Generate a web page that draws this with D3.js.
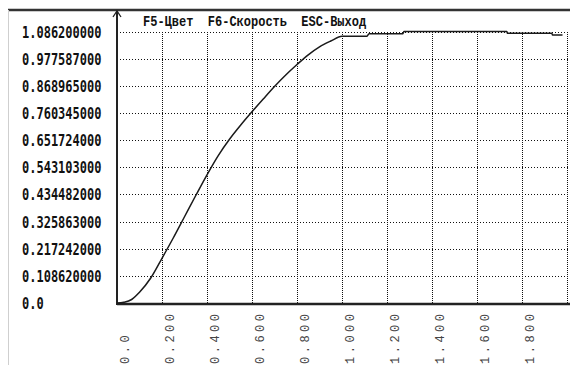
<!DOCTYPE html>
<html>
<head>
<meta charset="utf-8">
<script src="https://cdn.jsdelivr.net/npm/d3@7"></script>
<style>
  body { margin: 0; background: #fff; }
  svg { display: block; }
</style>
</head>
<body>
<div id="chart"></div>
<script>
// values
const curveX = [0, 0.03, 0.065, 0.1, 0.15, 0.2, 0.25, 0.3, 0.35, 0.4, 0.45, 0.5, 0.55, 0.6, 0.65, 0.7, 0.75, 0.8, 0.85, 0.9, 0.95, 1.0, 1.11, 1.12, 1.27, 1.275, 1.733, 1.735, 1.933, 1.935, 1.98];
const curveY = [0, 0.003, 0.014, 0.043, 0.1, 0.179, 0.26, 0.345, 0.43, 0.513, 0.59, 0.655, 0.712, 0.765, 0.816, 0.866, 0.912, 0.954, 0.993, 1.025, 1.048, 1.067, 1.067, 1.077, 1.077, 1.0862, 1.0862, 1.079, 1.079, 1.072, 1.072];

const yTicks = [0, 0.10862, 0.217242, 0.325863, 0.434482, 0.543103, 0.651724, 0.760345, 0.868965, 0.977587, 1.0862];
const yTickLabels = ["0.0", "0.108620000", "0.217242000", "0.325863000", "0.434482000", "0.543103000", "0.651724000", "0.760345000", "0.868965000", "0.977587000", "1.086200000"];

const xTicks = [0, 0.2, 0.4, 0.6, 0.8, 1.0, 1.2, 1.4, 1.6, 1.8];
const xTickLabels = ["0.0", "0.200", "0.400", "0.600", "0.800", "1.000", "1.200", "1.400", "1.600", "1.800"];
const xGrid = [0.2, 0.4, 0.6, 0.8, 1.0, 1.2, 1.4, 1.6, 1.8, 2.0];

const headerText = "F5-Цвет  F6-Скорость  ESC-Выход";

const W = 570, H = 367;
const plotLeft = 117, plotRight = 567, plotTop = 31.5, plotBottom = 303;

const svg = d3.select("#chart").append("svg")
    .attr("width", W)
    .attr("height", H);

const xScale = d3.scaleLinear().domain([0, 2]).range([plotLeft, plotRight]);
const yScale = d3.scaleLinear().domain([0, 1.0862]).range([plotBottom, plotTop]);

// frame: thick top rule and thin left border
svg.append("line")
    .attr("x1", 8).attr("x2", W).attr("y1", 10).attr("y2", 10)
    .attr("stroke", "#333").attr("stroke-width", 2.5);
svg.append("line")
    .attr("x1", 8.5).attr("x2", 8.5).attr("y1", 10).attr("y2", 365)
    .attr("stroke", "#cfcfcf").attr("stroke-width", 1);

// dotted grid
const yGridAxis = d3.axisLeft(yScale)
    .tickValues(yTicks.slice(1))
    .tickSize(-(W - plotLeft))
    .tickFormat("");
svg.append("g")
    .attr("class", "grid y-grid")
    .attr("transform", `translate(${plotLeft},0)`)
    .call(yGridAxis)
    .call(g => g.select(".domain").remove())
    .selectAll("line")
    .attr("stroke", "#111")
    .attr("shape-rendering", "crispEdges")
    .attr("stroke-dasharray", "1,2");

const xGridAxis = d3.axisBottom(xScale)
    .tickValues(xGrid)
    .tickSize(-(plotBottom - plotTop))
    .tickFormat("");
svg.append("g")
    .attr("class", "grid x-grid")
    .attr("transform", `translate(0,${plotBottom})`)
    .call(xGridAxis)
    .call(g => g.select(".domain").remove())
    .selectAll("line")
    .attr("stroke", "#111")
    .attr("shape-rendering", "crispEdges")
    .attr("stroke-dasharray", "1,1");

// y labels, left aligned
const yAxis = d3.axisLeft(yScale)
    .tickValues(yTicks)
    .tickSize(0)
    .tickFormat((d, i) => yTickLabels[i]);
svg.append("g")
    .attr("class", "axis y-axis")
    .attr("transform", `translate(${plotLeft},0)`)
    .call(yAxis)
    .call(g => g.select(".domain").remove())
    .selectAll("text")
    .attr("x", 0).attr("dy", null).attr("y", null)
    .attr("text-anchor", "start")
    .attr("dominant-baseline", "central")
    .attr("transform", "translate(-95,0) scale(1,1.25)")
    .style("font-family", "'DejaVu Sans Mono', monospace")
    .style("font-weight", "bold")
    .style("font-size", "12px")
    .style("fill", "#111");

// x labels, rotated
const xAxis = d3.axisBottom(xScale)
    .tickValues(xTicks)
    .tickSize(0)
    .tickFormat((d, i) => xTickLabels[i]);
svg.append("g")
    .attr("class", "axis x-axis")
    .attr("transform", `translate(0,${plotBottom})`)
    .call(xAxis)
    .call(g => g.select(".domain").remove())
    .selectAll("text")
    .attr("y", null).attr("dy", null).attr("x", null)
    .attr("text-anchor", "start")
    .attr("transform", "translate(11,61) rotate(-90)")
    .style("font-family", "'Liberation Mono', monospace")
    .style("font-size", "12px")
    .style("letter-spacing", "3.5px")
    .style("fill", "#444");

// axes lines
svg.append("line")
    .attr("x1", plotLeft).attr("x2", W).attr("y1", plotBottom + 1).attr("y2", plotBottom + 1)
    .attr("stroke", "#222").attr("stroke-width", 2.5);
svg.append("line")
    .attr("x1", plotLeft).attr("x2", plotLeft).attr("y1", 11).attr("y2", plotBottom + 2)
    .attr("stroke", "#222").attr("stroke-width", 2);
svg.append("path")
    .attr("d", `M${plotLeft - 4},17 L${plotLeft},11 L${plotLeft + 4},17`)
    .attr("fill", "none").attr("stroke", "#222").attr("stroke-width", 1.3);

// header
svg.append("text")
    .attr("transform", "translate(143,26) scale(1,1.25)")
    .attr("xml:space", "preserve")
    .style("white-space", "pre")
    .style("font-family", "'Liberation Mono', monospace")
    .style("font-weight", "bold")
    .style("font-size", "12px")
    .style("fill", "#111")
    .text(headerText);

// curve
const data = curveX.map((x, i) => ({ x: x, y: curveY[i] }));
const line = d3.line()
    .curve(d3.curveMonotoneX)
    .x(d => xScale(d.x))
    .y(d => yScale(d.y));
svg.append("path")
    .datum(data)
    .attr("class", "line-path")
    .attr("fill", "none")
    .attr("stroke", "#1a1a1a")
    .attr("stroke-width", 1.5)
    .attr("d", line);
</script>
</body>
</html>
